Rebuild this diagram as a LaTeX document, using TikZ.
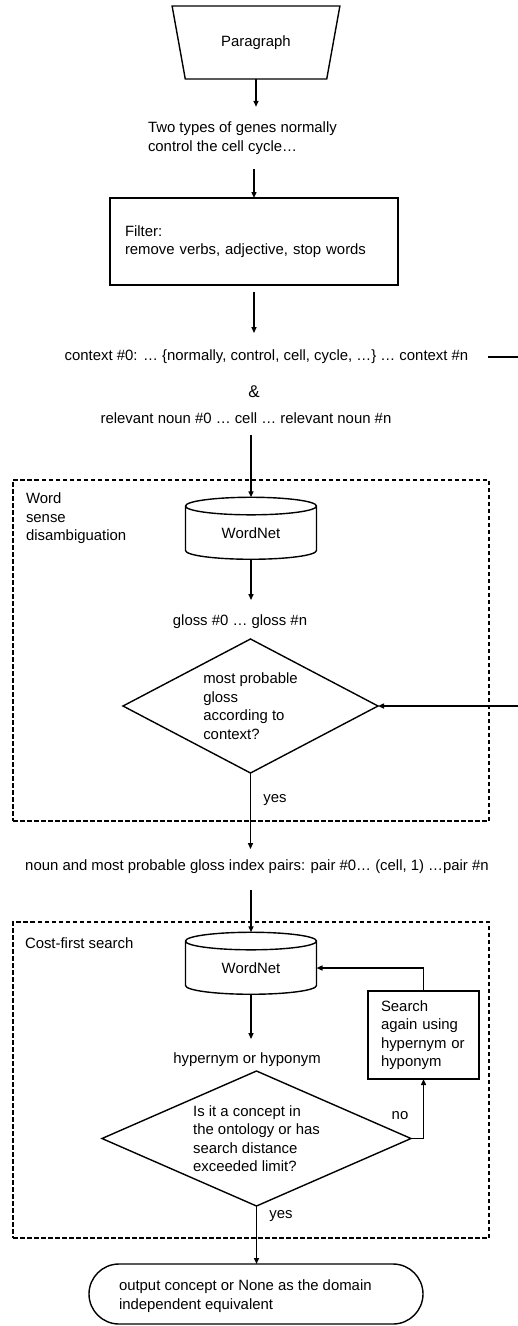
\documentclass[tikz,border=0pt]{standalone}
\usepackage{fontspec}
\setmainfont{Liberation Sans}
\usetikzlibrary{shapes.geometric,arrows.meta}
\begin{document}
\begin{tikzpicture}[x=1pt,y=-1pt,
  font=\fontsize{14.9}{18.5}\selectfont,
  every node/.style={inner sep=0pt, outer sep=0pt},
  line/.style={line width=1.4pt, draw=black},
  arrow/.style={line, -{Triangle[length=6pt,width=5pt]}},
  box/.style={line, rectangle, align=left},
  trapbox/.style={line, trapezium, shape border rotate=180, trapezium angle=65,
    trapezium stretches=true, minimum width=168, minimum height=73},
  db/.style={line, cylinder, shape border rotate=90, aspect=0.3,
    minimum width=131, minimum height=62},
  decision/.style={line, diamond, align=left},
  frame/.style={draw=black, line width=1.4pt, dash pattern=on 4.5pt off 2.5pt, rectangle},
  terminal/.style={line, rectangle, rounded corners=30pt, minimum width=334, minimum height=60},
]
\useasboundingbox (0,0) rectangle (518,1326);

% input and pre-processing
\node[trapbox] (para) at (256,42.5) {Paragraph};
\node[anchor=west, align=left] (genes) at (148,138) {Two types of genes normally\\control the cell cycle…};
\node[box, minimum width=288, minimum height=87, text width=258, inner xsep=15pt] (filter) at (254,241.5)
  {Filter:\\remove verbs, adjective, stop words};
\node (ctx) at (266.5,357) {context \#0: … \{normally, control, cell, cycle, …\} … context \#n};
\node[font=\fontsize{17}{18}\selectfont] (amp) at (254,392) {\&};
\node (nouns) at (246,418) {relevant noun \#0 … cell … relevant noun \#n};
\coordinate (ctxout) at (488,357);
\coordinate (rt) at (522,357);

% word sense disambiguation
\node[frame, minimum width=476, minimum height=341] (wsd) at (251,650.5) {};
\node[anchor=north west, align=left] (wsdlabel) at (26,493) {Word\\sense\\disambiguation};
\node[db] (wn1) at (251,533) {WordNet};
\node (gloss) at (240,622) {gloss \#0 … gloss \#n};
\node[decision, minimum width=255, minimum height=134, aspect=1.9] (ctxq) at (250.5,706)
  {most probable\\gloss\\according to\\context?};
\node (yes1) at (275,800) {yes};

\node (pairs) at (257,867) {noun and most probable gloss index pairs: pair \#0… (cell, 1) …pair \#n};

% cost-first search
\node[frame, minimum width=476, minimum height=316] (cfs) at (251,1080) {};
\node[anchor=west] (cfslabel) at (25,943) {Cost-first search};
\node[db] (wn2) at (251,968) {WordNet};
\node (hyp) at (247,1060) {hypernym or hyponym};
\node[decision, minimum width=309, minimum height=135, aspect=2.3] (concq) at (256.5,1138.5)
  {Is it a concept in\\the ontology or has\\search distance\\exceeded limit?};
\node[box, minimum width=111, minimum height=88, text width=85, inner xsep=13pt] (again) at (423.5,1035)
  {Search\\again using\\hypernym or\\hyponym};
\node (no) at (400,1116) {no};
\node (yes2) at (281,1216) {yes};

% output
\node[terminal] (out) at (256,1294) {};
\node[anchor=west, align=left] (outtext) at (119,1296) {output concept or None as the domain\\independent equivalent};

% connectors
\draw[arrow, shorten >=15pt] (para.south) -- (para.south |- genes.north);
\draw[arrow, shorten <=15pt] (filter.north |- genes.south) -- (filter.north);
\draw[arrow, shorten <=7pt, shorten >=17pt] (filter.south) -- (filter.south |- ctx.north);
\draw[arrow] (ctxout) -- (rt) |- (ctxq.east);
\draw[arrow, shorten <=12pt] (wn1.north |- nouns.south) -- (wn1.north);
\draw[arrow, shorten >=15pt] (wn1.south) -- (wn1.south |- gloss.north);
\draw[arrow, shorten >=11pt] (ctxq.south) -- (ctxq.south |- pairs.north);
\draw[arrow, shorten <=16pt] (wn2.north |- pairs.south) -- (wn2.north);
\draw[arrow, shorten >=14pt] (wn2.south) -- (wn2.south |- hyp.north);
\draw[arrow] (concq.south) -- (concq.south |- out.north);
\draw[arrow] (concq.east) -| (again.south);
\draw[arrow] (again.north) |- (wn2.east);
\end{tikzpicture}
\end{document}
